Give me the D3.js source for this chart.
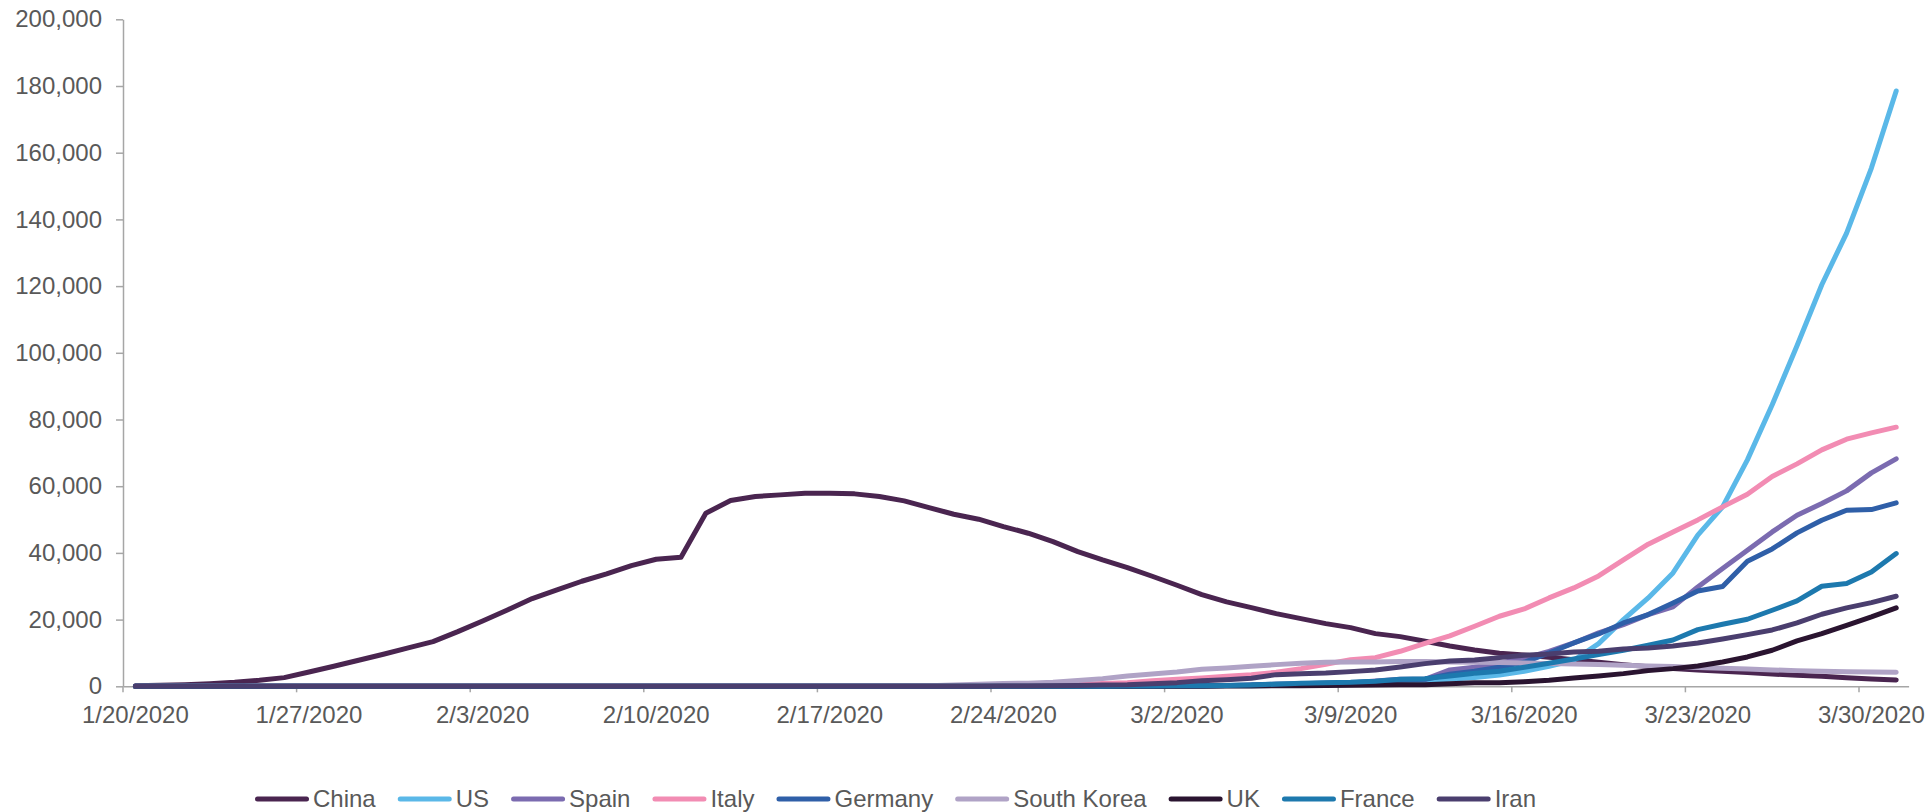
<!DOCTYPE html>
<html>
<head>
<meta charset="utf-8">
<script src="https://cdn.jsdelivr.net/npm/d3@7"></script>
<style>
  html, body { margin: 0; padding: 0; background: #ffffff; }
  svg { display: block; }
  text { font-family: "Liberation Sans", Arial, sans-serif; }
</style>
</head>
<body>
<svg id="chart" width="1928" height="812"></svg>
<script>
const dates = [
  "1/20/2020","1/21/2020","1/22/2020","1/23/2020","1/24/2020","1/25/2020","1/26/2020","1/27/2020","1/28/2020","1/29/2020","1/30/2020","1/31/2020",
  "2/1/2020","2/2/2020","2/3/2020","2/4/2020","2/5/2020","2/6/2020","2/7/2020","2/8/2020","2/9/2020","2/10/2020",
  "2/11/2020","2/12/2020","2/13/2020","2/14/2020","2/15/2020","2/16/2020","2/17/2020","2/18/2020","2/19/2020","2/20/2020",
  "2/21/2020","2/22/2020","2/23/2020","2/24/2020","2/25/2020","2/26/2020","2/27/2020","2/28/2020","2/29/2020",
  "3/1/2020","3/2/2020","3/3/2020","3/4/2020","3/5/2020","3/6/2020","3/7/2020","3/8/2020","3/9/2020","3/10/2020",
  "3/11/2020","3/12/2020","3/13/2020","3/14/2020","3/15/2020","3/16/2020","3/17/2020","3/18/2020","3/19/2020","3/20/2020",
  "3/21/2020","3/22/2020","3/23/2020","3/24/2020","3/25/2020","3/26/2020","3/27/2020","3/28/2020","3/29/2020","3/30/2020","3/31/2020"
];

const tickLabels = ["1/20/2020","1/27/2020","2/3/2020","2/10/2020","2/17/2020","2/24/2020","3/2/2020","3/9/2020","3/16/2020","3/23/2020","3/30/2020"];
const yTicks = [0,20000,40000,60000,80000,100000,120000,140000,160000,180000,200000];

const seriesNames = ["China","US","Spain","Italy","Germany","South Korea","UK","France","Iran"];

const china = [200,300,500,800,1200,1800,2600,4300,6000,7800,
  9600,11500,13400,16400,19600,22900,26300,28900,31500,33700,
  36200,38100,38700,51900,55700,56900,57400,57900,57900,57700,
  56900,55600,53600,51600,50100,47900,45900,43400,40400,37900,
  35600,33000,30300,27500,25300,23600,21800,20300,18800,17600,
  15800,14900,13500,12100,10900,9900,9400,8700,8000,7200,
  6500,5900,5300,4900,4500,4100,3700,3300,3000,2600,
  2200,1900];

const us = [0,1,1,2,2,5,5,5,5,5,
  5,7,8,8,11,11,11,11,11,11,
  11,11,12,12,13,13,13,13,13,13,
  13,13,35,35,35,53,53,53,53,53,
  60,67,91,104,130,195,234,370,480,540,
  900,1200,1600,2100,2600,3400,4500,6000,7800,12800,
  20000,26500,34000,45300,53800,67900,84400,102100,120400,135900,
  155400,178500];

const spain = [0,0,0,0,0,0,0,0,0,0,
  0,0,1,1,1,1,1,1,1,2,
  2,2,2,2,2,2,2,2,2,2,
  2,2,2,2,2,2,4,11,13,30,
  43,82,118,163,218,255,395,490,650,1010,
  1600,2100,2100,4900,5700,6900,8400,10500,13000,16000,
  18500,21500,23800,29800,35300,40800,46300,51300,54800,58600,
  64000,68200];

const italy = [0,0,0,0,0,0,0,0,0,0,
  0,2,2,2,2,2,2,2,3,3,
  3,3,3,3,3,3,3,3,3,3,
  3,3,20,60,150,220,310,440,590,820,
  1050,1650,2100,2500,3000,3500,4200,5300,6600,8000,
  8600,10500,12900,15100,18000,21000,23200,26500,29500,33100,
  37900,42600,46300,49900,53800,57600,62900,66700,70900,74100,
  76000,77700];

const germany = [0,0,0,0,0,0,0,0,4,4,
  4,5,8,10,12,12,12,12,13,13,
  14,14,16,16,16,16,16,16,16,16,
  16,16,16,16,16,16,2,13,32,40,
  63,114,143,180,246,466,654,783,1024,1160,
  1400,1900,2100,3600,4500,5700,7200,10000,13000,15700,
  19000,21500,25000,28600,29900,37500,41200,46000,49800,52800,
  53000,55000];

const southKorea = [0,0,1,1,2,2,3,4,4,4,
  4,11,12,15,15,16,19,23,24,24,
  25,27,21,21,21,21,21,21,19,15,
  15,88,186,415,584,810,950,1250,1750,2300,
  3100,3700,4300,5100,5500,6000,6500,6900,7200,7300,
  7300,7400,7400,7300,7200,7100,7000,6800,6700,6500,
  6300,6100,5900,5600,5400,5200,4900,4700,4500,4400,
  4300,4200];

const uk = [0,0,0,0,0,0,0,0,0,0,
  0,2,2,2,2,2,2,2,2,2,
  8,8,8,8,8,8,8,8,8,8,
  8,8,8,8,8,8,5,7,12,15,
  15,28,32,43,70,100,145,185,250,300,
  360,430,430,760,1100,1100,1400,1800,2500,3100,
  3800,4700,5300,6100,7300,8800,10800,13600,15800,18300,
  20800,23500];

const france = [0,0,0,0,2,3,3,3,4,5,
  5,5,6,6,6,6,6,6,11,11,
  11,11,11,11,7,7,7,7,7,7,
  7,7,7,7,7,7,6,10,30,47,
  88,116,176,186,270,360,630,930,1100,1180,
  1500,2100,2300,3100,3900,4500,5700,6900,8200,9500,
  10800,12300,13900,17000,18600,20100,22800,25600,30000,30800,
  34300,39800];

const iran = [0,0,0,0,0,0,0,0,0,0,
  0,0,0,0,0,0,0,0,0,0,
  0,0,0,0,0,0,0,0,0,0,
  2,5,18,28,43,61,95,139,245,388,
  430,800,1100,1700,2000,2400,3500,3800,4000,4400,
  4900,5800,6800,7600,7900,8600,9300,9700,10300,10500,
  11200,11500,12100,13000,14200,15500,16900,19000,21600,23500,
  25100,27000];

const seriesValues = [china, us, spain, italy, germany, southKorea, uk, france, iran];
const seriesColors = ["#4a2550","#5ab8e8","#7b6bb0","#f28cb3","#2f5fa8","#b0a3c6","#2a1430","#1d79ae","#4a3e6e"];

// ---- layout ----
const svg = d3.select("#chart");
const plotLeft = 123, plotRight = 1908.6, plotTop = 19.3, plotBottom = 686.3;
const textColor = "#595959";
const axisColor = "#a6a6a6";
const fontSize = 24;
const lineW = 5;

const x = d3.scaleBand().domain(dates).range([plotLeft, plotRight]).padding(0);
const y = d3.scaleLinear().domain([0, 200000]).range([plotBottom, plotTop]);

// Y axis
const yAxis = svg.append("g")
  .attr("transform", `translate(${plotLeft},0)`)
  .call(d3.axisLeft(y).tickValues(yTicks).tickFormat(d3.format(",")).tickSizeInner(7).tickSizeOuter(0).tickPadding(14));
yAxis.select(".domain").attr("stroke", axisColor).attr("stroke-width", 1.5);
yAxis.selectAll(".tick line").attr("stroke", axisColor).attr("stroke-width", 1.5);
yAxis.selectAll(".tick text").attr("fill", textColor).style("font-size", fontSize + "px")
  .style("font-family", "'Liberation Sans', Arial, sans-serif");

// X axis
const xAxis = svg.append("g")
  .attr("transform", `translate(0,${plotBottom})`)
  .call(d3.axisBottom(x).tickValues(tickLabels).tickSizeInner(6).tickSizeOuter(0).tickPadding(10));
xAxis.select(".domain").attr("stroke", axisColor).attr("stroke-width", 1.5);
xAxis.selectAll(".tick line")
  .attr("stroke", axisColor).attr("stroke-width", 1.5)
  .attr("x1", -x.bandwidth() / 2).attr("x2", -x.bandwidth() / 2);
xAxis.selectAll(".tick text")
  .attr("fill", textColor).attr("y", 37).attr("dy", 0)
  .style("font-size", fontSize + "px")
  .style("font-family", "'Liberation Sans', Arial, sans-serif");

// Lines
const line = d3.line()
  .x((d, i) => x(dates[i]) + x.bandwidth() / 2)
  .y(d => y(d));

svg.append("g").selectAll("path")
  .data(seriesValues)
  .join("path")
  .attr("d", d => line(d))
  .attr("fill", "none")
  .attr("stroke", (d, i) => seriesColors[i])
  .attr("stroke-width", lineW)
  .attr("stroke-linejoin", "round")
  .attr("stroke-linecap", "round");

// Legend
const legend = svg.append("g");
let lx = 255;
const ly = 799;
seriesNames.forEach((name, i) => {
  legend.append("line")
    .attr("x1", lx + lineW / 2).attr("x2", lx + 54 - lineW / 2)
    .attr("y1", ly).attr("y2", ly)
    .attr("stroke", seriesColors[i]).attr("stroke-width", lineW)
    .attr("stroke-linecap", "round");
  const t = legend.append("text")
    .attr("x", lx + 58).attr("y", 807)
    .attr("fill", textColor)
    .style("font-size", fontSize + "px")
    .text(name);
  const w = t.node().getComputedTextLength();
  lx = lx + 58 + w + 22;
});
</script>
</body>
</html>
